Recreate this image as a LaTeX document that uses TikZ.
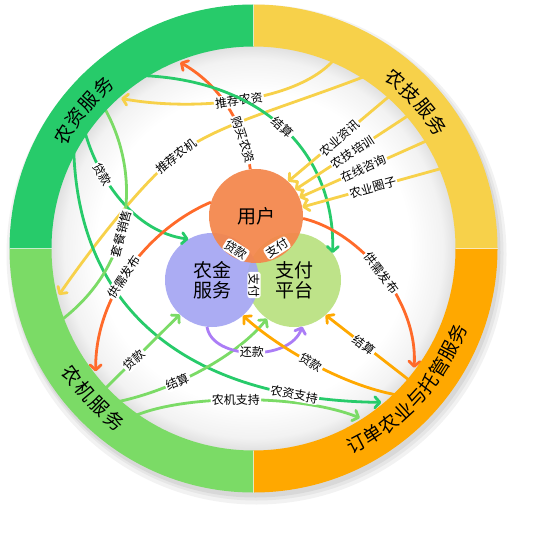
\documentclass[tikz,border=0pt]{standalone}
\usepackage{fontspec}
\newfontfamily\cjk{Noto Sans CJK SC}
\usepackage{tikz}
\usetikzlibrary{arrows.meta}
\usetikzlibrary{calc}
\usepackage{xcolor}

\definecolor{ziGreen}{HTML}{27CB6A}
\definecolor{jiYellow}{HTML}{F7D14A}
\definecolor{mjGreen}{HTML}{7BDB66}
\definecolor{ddOrange}{HTML}{FFA800}
\definecolor{redOrange}{HTML}{FF6A2A}
\definecolor{repayPurple}{HTML}{AB7DF6}
\definecolor{userOrange}{HTML}{F4864B}
\definecolor{finBlue}{HTML}{A2A4F2}
\definecolor{payGreen}{HTML}{BEE389}

\pgfdeclareradialshading{innerglow}{\pgfpoint{0bp}{0bp}}{color(0bp)=(white); color(19bp)=(white); color(23bp)=(black!5); color(25bp)=(black!14); color(50bp)=(black!14)}

\tikzset{
    hub/.style={
        circle,
        minimum size=94pt,
        inner sep=0pt,
        align=center,
        text opacity=1,
        font=\cjk\fontsize{19}{20}\selectfont
    },
    flow/.style={
        line width=2.8pt,
        -{Straight Barb[length=5pt, width=11pt, round]}
    },
    link/.style={line width=2.8pt},
    tag/.style={
        fill=white,
        text=black,
        rounded corners=3pt,
        inner sep=1.2pt,
        font=\cjk\fontsize{12}{12}\selectfont
    },
    lbl/.style={tag, sloped},
    ringtxt/.style={inner sep=0pt, text=black, font=\cjk\fontsize{19}{19}\selectfont}
}

\begin{document}
\begin{tikzpicture}[x=1pt, y=1pt]
  \useasboundingbox (0,0) rectangle (541,-553);
  \coordinate (c) at (253.5,-248.5);

  % Shadow and inner area
  \fill[black, opacity=.05] ($(c)+(3,-6)$) circle (250);
  \fill[black, opacity=.05] ($(c)+(3,-5)$) circle (247);
  \fill[black, opacity=.06] ($(c)+(2,-4)$) circle (245);
  \shade[shading=innerglow] (c) circle (206);

  % Hubs
  \node[hub, fill=payGreen] (pay) at (294,-280) {支付\\平台};
  \node[hub, fill=finBlue, fill opacity=.9] (fin) at (212,-280) {农金\\服务};
  \node[hub, fill=userOrange, fill opacity=.93] (user) at (256,-216) {用户};

  % Points on the ring
  \coordinate (z1) at ($(c)+(131.4:200)$);
  \coordinate (z2) at ($(c)+(111.5:200)$);
  \coordinate (z3) at ($(c)+(122.9:206)$);
  \coordinate (z4) at ($(c)+(145.1:206)$);
  \coordinate (z5) at ($(c)+(136.6:206)$);
  \coordinate (z6) at ($(c)+(150.8:206)$);
  \coordinate (t1) at ($(c)+(66.8:206)$);
  \coordinate (t2) at ($(c)+(56.9:206)$);
  \coordinate (t3) at ($(c)+(48.2:206)$);
  \coordinate (t4) at ($(c)+(40.6:206)$);
  \coordinate (t5) at ($(c)+(31.8:206)$);
  \coordinate (t6) at ($(c)+(23.0:206)$);
  \coordinate (m1) at ($(c)+(193.4:200)$);
  \coordinate (m2) at ($(c)+(200.5:206)$);
  \coordinate (m3) at ($(c)+(217.9:200)$);
  \coordinate (m4) at ($(c)+(223.4:206)$);
  \coordinate (m5) at ($(c)+(228.2:206)$);
  \coordinate (m6) at ($(c)+(234.5:206)$);
  \coordinate (d1) at ($(c)+(-36.6:200)$);
  \coordinate (d2) at ($(c)+(-40.2:206)$);
  \coordinate (d3) at ($(c)+(-45.4:206)$);
  \coordinate (d4) at ($(c)+(-50.3:200)$);
  \coordinate (d5) at ($(c)+(-57.9:200)$);

  % Flows from the upper ring
  \draw[flow, jiYellow] (t2) .. controls (280,-109) and (215,-125) .. node[lbl, pos=1] (l1) {推荐农机} (176,-156) .. controls (140,-185) and (90,-250) .. (m1);
  \draw[flow, redOrange] (user.97) .. controls (245,-130) and (225,-88) .. node[lbl, pos=.25] (l2) {购买农资} (z2);
  \draw[flow, jiYellow] (t1) .. controls (295,-104) and (190,-111) .. node[lbl, pos=.5] (l3) {推荐农资} (z1);
  \draw[flow, ziGreen] (z3) .. controls (260,-80) and (335,-150) .. node[lbl, pos=.5] (l4) {结算} (pay.35);
  \draw[flow, ziGreen] (z4) .. controls (98,-180) and (135,-232) .. node[lbl, pos=.3] (l5) {贷款} (fin.120);

  % Long flows round the bottom
  \draw[flow, mjGreen] (m6) .. controls (185,-394) and (300,-394) .. node[lbl, pos=.47] (l6) {农机支持} (d5);
  \draw[flow, ziGreen] (z6) .. controls (78,-320) and (200,-400) .. node[lbl, pos=.83] (l7) {农资支持} (d4);
  \draw[link, mjGreen] (z5) .. controls (140,-170) and (138,-262) .. node[lbl, pos=.58] (l8) {套餐销售} (m2);

  % Supply and demand
  \draw[flow, redOrange] (user.163) .. controls (150,-228) and (95,-295) .. node[lbl, pos=.55] (l9) {供需发布} (m3);
  \draw[flow, redOrange] (user.-3) .. controls (360,-232) and (418,-300) .. node[lbl, pos=.5] (l10) {供需发布} (d1);

  % Technical services
  \draw[flow, jiYellow] (t3) -- node[lbl, pos=.5] (l11) {农业资讯} (user.47);
  \draw[flow, jiYellow] (t4) -- node[lbl, pos=.5] (l12) {农技培训} (user.34);
  \draw[flow, jiYellow] (t5) -- node[lbl, pos=.5] (l13) {在线咨询} (user.23);
  \draw[flow, jiYellow] (t6) -- node[lbl, pos=.5] (l14) {农业圈子} (user.11);

  % Machinery services
  \draw[flow, mjGreen] (m4) -- node[lbl, pos=.4] (l15) {贷款} (fin.-133);
  \draw[flow, mjGreen] (m5) .. controls (175,-390) and (238,-355) .. node[lbl, pos=.35] (l16) {结算} (pay.-125);

  % Repayment
  \draw[flow, repayPurple] (fin.-96) .. controls (212,-360) and (290,-362) .. node[lbl, pos=.5] (l17) {还款} (pay.-80);

  % Order farming
  \draw[flow, ddOrange] (d3) .. controls (340,-385) and (275,-345) .. node[lbl, pos=.5] (l18) {贷款} (fin.-49);
  \draw[flow, ddOrange] (d2) -- node[lbl, pos=.55] (l19) {结算} (pay.-48);

  % Overlap labels
  \node[tag, rotate=-32] (o1) at (236,-250) {贷款};
  \node[tag, rotate=32] (o2) at (277,-248) {支付};
  \node[tag, rotate=-90] (o3) at (254,-285) {支付};

  % Ring
  \fill[ziGreen] (c) ++(90:244) arc[start angle=90, end angle=180, radius=244] -- ++(42,0) arc[start angle=180, end angle=90, radius=202] -- cycle;
  \fill[jiYellow] (c) ++(0:244) arc[start angle=0, end angle=90, radius=244] -- ++(0,-42) arc[start angle=90, end angle=0, radius=202] -- cycle;
  \fill[mjGreen] (c) ++(180:244) arc[start angle=180, end angle=270, radius=244] -- ++(0,42) arc[start angle=270, end angle=180, radius=202] -- cycle;
  \fill[ddOrange] (c) ++(270:244) arc[start angle=270, end angle=360, radius=244] -- ++(-42,0) arc[start angle=0, end angle=-90, radius=202] -- cycle;
  \foreach \a in {0,90,180,270}
    \draw[white, opacity=.6, line width=1pt] ($(c)+(\a:202)$) -- ($(c)+(\a:244)$);

  % Ring titles
  \foreach \ch [count=\i] in {农,资,服,务}
    \node[ringtxt, rotate={141+(2.5-\i)*5.4-90}] (rz\i) at ($(c)+({141+(2.5-\i)*5.4}:221)$) {\ch};
  \foreach \ch [count=\i] in {农,技,服,务}
    \node[ringtxt, rotate={42+(2.5-\i)*5.4-90}] (rt\i) at ($(c)+({42+(2.5-\i)*5.4}:221)$) {\ch};
  \foreach \ch [count=\i] in {农,机,服,务}
    \node[ringtxt, rotate={223+(\i-2.5)*5.4+90}] (rm\i) at ($(c)+({223+(\i-2.5)*5.4}:221)$) {\ch};
  \foreach \ch [count=\i] in {订,单,农,业,与,托,管,服,务}
    \node[ringtxt, rotate={-42.5+(\i-5)*4.95+90}] (rd\i) at ($(c)+({-42.5+(\i-5)*4.95}:221)$) {\ch};
\end{tikzpicture}
\end{document}
